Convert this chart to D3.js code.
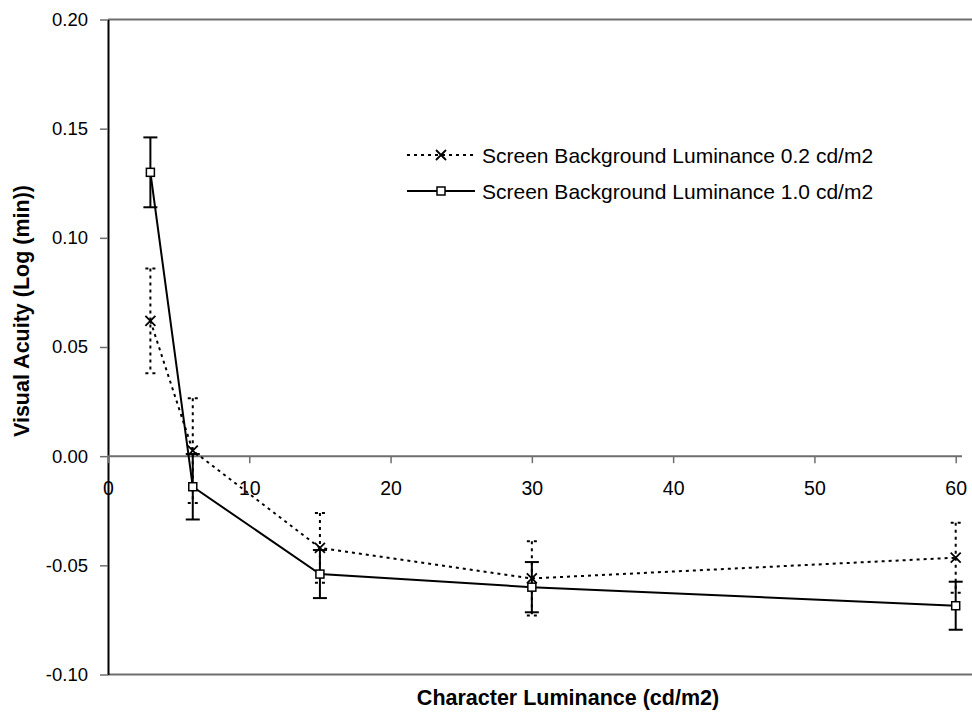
<!DOCTYPE html>
<html>
<head>
<meta charset="utf-8">
<script src="https://cdn.jsdelivr.net/npm/d3@7"></script>
<style>
  body { margin: 0; background: #fff; }
  svg { font-family: "Liberation Sans", Arial, sans-serif; }
</style>
</head>
<body>
<div id="chart"></div>
<script>
// character luminance (cd/m2)
const luminance = [3, 6, 15, 30, 60];
// screen background 0.2 cd/m2
const bg02 = [0.062, 0.0025, -0.042, -0.056, -0.0465];
const bg02Err = [0.024, 0.024, 0.016, 0.017, 0.016];
// screen background 1.0 cd/m2
const bg10 = [0.130, -0.014, -0.054, -0.060, -0.0685];
const bg10Err = [0.016, 0.015, 0.011, 0.0115, 0.011];

const xTicks = [0, 10, 20, 30, 40, 50, 60];
const yTicks = [-0.10, -0.05, 0.00, 0.05, 0.10, 0.15, 0.20];
const seriesNames = ["Screen Background Luminance 0.2 cd/m2", "Screen Background Luminance 1.0 cd/m2"];

const width = 972, height = 722;
const svg = d3.select("#chart").append("svg")
    .attr("width", width)
    .attr("height", height);

// scales
const x = d3.scaleLinear().domain([0, 60]).range([108, 955.7]);
const y = d3.scaleLinear().domain([-0.10, 0.20]).range([674.5, 19.5]);

const grey = "#6e6e6e";

// plot area top / bottom border
svg.append("line").attr("x1", 108).attr("x2", width).attr("y1", y(0.20)).attr("y2", y(0.20))
    .attr("stroke", grey).attr("stroke-width", 2);
svg.append("line").attr("x1", 108).attr("x2", width).attr("y1", y(-0.10)).attr("y2", y(-0.10))
    .attr("stroke", grey).attr("stroke-width", 2);

// y axis
const yAxis = svg.append("g")
    .attr("transform", `translate(${x(0)},0)`)
    .call(d3.axisLeft(y).tickValues(yTicks).tickFormat(d => d.toFixed(2)).tickSize(8).tickPadding(12).tickSizeOuter(0));
yAxis.select(".domain").attr("stroke", "#000").attr("stroke-width", 2);
yAxis.selectAll(".tick line").attr("stroke", grey).attr("stroke-width", 1.5);
yAxis.selectAll(".tick text").attr("font-size", 18.5).attr("fill", "#000");

// x axis crossing at 0
const xAxis = svg.append("g")
    .attr("transform", `translate(0,${y(0)})`)
    .call(d3.axisBottom(x).tickValues(xTicks).tickSize(7).tickPadding(18).tickSizeOuter(0));
xAxis.select(".domain").attr("stroke", grey).attr("stroke-width", 2)
    .attr("d", `M${x(0)},0H962`);
xAxis.selectAll(".tick line").attr("stroke", grey).attr("stroke-width", 1.5);
xAxis.selectAll(".tick text").attr("font-size", 19.5).attr("fill", "#000");

// axis titles
svg.append("text")
    .attr("transform", `translate(29,311) rotate(-90)`)
    .attr("text-anchor", "middle")
    .attr("font-size", 21.5)
    .attr("font-weight", "bold")
    .text("Visual Acuity (Log (min))");
svg.append("text")
    .attr("x", 568).attr("y", 705)
    .attr("text-anchor", "middle")
    .attr("font-size", 21.5)
    .attr("font-weight", "bold")
    .text("Character Luminance (cd/m2)");

const line = d3.line().x(d => x(d[0])).y(d => y(d[1]));

function drawSeries(vals, errs, dash, cap, marker) {
    const pts = luminance.map((l, i) => [l, vals[i], errs[i]]);
    const g = svg.append("g");
    // error bars
    pts.forEach(p => {
        g.append("line")
            .attr("x1", x(p[0])).attr("x2", x(p[0]))
            .attr("y1", y(p[1] + p[2])).attr("y2", y(p[1] - p[2]))
            .attr("stroke", "#000").attr("stroke-width", 2)
            .attr("stroke-dasharray", dash);
        [p[1] + p[2], p[1] - p[2]].forEach(v => {
            g.append("line")
                .attr("x1", x(p[0]) - cap).attr("x2", x(p[0]) + cap)
                .attr("y1", y(v)).attr("y2", y(v))
                .attr("stroke", "#000").attr("stroke-width", 2)
                .attr("stroke-dasharray", dash);
        });
    });
    g.append("path")
        .datum(pts)
        .attr("d", line)
        .attr("fill", "none")
        .attr("stroke", "#000")
        .attr("stroke-width", 2)
        .attr("stroke-dasharray", dash);
    pts.forEach(p => marker(g, x(p[0]), y(p[1])));
}

function crossMarker(g, cx, cy) {
    const s = 5;
    g.append("path")
        .attr("d", `M${cx - s},${cy - s}L${cx + s},${cy + s}M${cx - s},${cy + s}L${cx + s},${cy - s}`)
        .attr("stroke", "#000").attr("stroke-width", 1.8).attr("fill", "none");
}
function squareMarker(g, cx, cy) {
    const s = 4;
    g.append("rect")
        .attr("x", cx - s).attr("y", cy - s).attr("width", 2 * s).attr("height", 2 * s)
        .attr("fill", "#fff").attr("stroke", "#000").attr("stroke-width", 1.5);
}

drawSeries(bg02, bg02Err, "3,4", 5, crossMarker);
drawSeries(bg10, bg10Err, null, 7, squareMarker);

// legend
const legend = [
    { name: seriesNames[0], dash: "3,4", marker: crossMarker, y: 155 },
    { name: seriesNames[1], dash: null, marker: squareMarker, y: 191 }
];
legend.forEach(l => {
    svg.append("line")
        .attr("x1", 407).attr("x2", 475)
        .attr("y1", l.y).attr("y2", l.y)
        .attr("stroke", "#000").attr("stroke-width", 2)
        .attr("stroke-dasharray", l.dash);
    l.marker(svg, 441, l.y);
    svg.append("text")
        .attr("x", 482).attr("y", l.y + 7.5)
        .attr("font-size", 21)
        .text(l.name);
});
</script>
</body>
</html>
